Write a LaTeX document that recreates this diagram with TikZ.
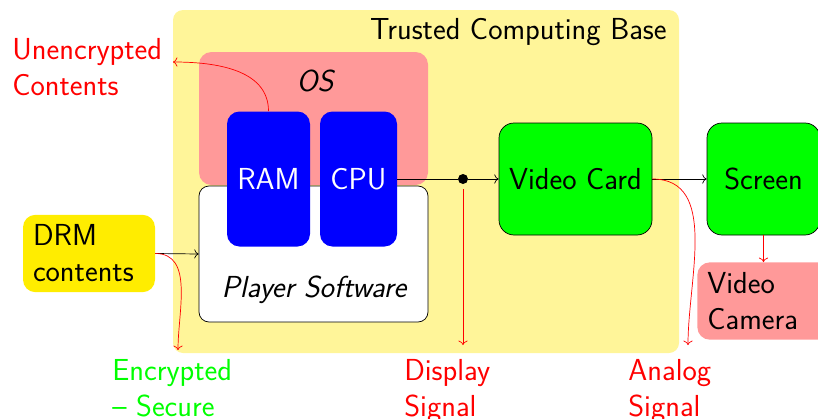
\documentclass[tikz,border=0pt]{standalone}
\usepackage{tikz}
\usetikzlibrary{arrows.meta,positioning,calc}
\definecolor{tcbyellow}{HTML}{FFF599}
\definecolor{drmyellow}{HTML}{FFED00}

\begin{document}
\begin{tikzpicture}[
  font=\sffamily\fontsize{17.3pt}{20.5pt}\selectfont,
  area/.style={rounded corners=0.2cm, inner sep=0pt},
  chip/.style={rounded corners=0.25cm, fill=blue, text=white, inner sep=0pt, minimum height=2.7cm},
  unit/.style={rounded corners=0.3cm, draw, fill=green, inner sep=0pt, minimum width=3.06cm, minimum height=2.24cm},
  note/.style={align=left, inner sep=0pt, anchor=north west},
  sig/.style={red, ->},
  flow/.style={->}]
  \useasboundingbox (0,0) rectangle (16.36,8.36);
  \node[area, fill=tcbyellow, minimum width=10.12cm, minimum height=6.86cm] (tcb) at (8.52,4.73) {};
  \node[anchor=base east, inner sep=0pt] (tcblab) at (13.34,7.58) {Trusted Computing Base};
  \node[area, rounded corners=0.25cm, fill=red!40, minimum width=4.58cm, minimum height=2.66cm] (os) at (6.27,5.99) {};
  \node[inner sep=0pt] (oslab) at (6.3,6.74) {\itshape OS};
  \node[area, draw, fill=white, minimum width=4.58cm, minimum height=2.72cm] (player) at (6.27,3.28) {};
  \node[anchor=base, inner sep=0pt] (playerlab) at (6.28,2.42) {\itshape Player Software};
  \node[chip, minimum width=1.66cm] (ram) at (5.37,4.78) {RAM};
  \node[chip, minimum width=1.54cm] (cpu) at (7.17,4.78) {CPU};
  \node[circle, fill, inner sep=0pt, minimum size=0.2cm] (dot) at (9.26,4.78) {};
  \node[unit] (vcard) at (11.51,4.78) {Video Card};
  \node[unit, minimum width=2.26cm] (screen) at (15.27,4.78) {Screen};
  \node[area, rounded corners=0.25cm, fill=drmyellow, align=left, text width=2.24cm, inner sep=0.2cm, minimum height=1.46cm] (drm) at (1.78,3.29) {DRM\\contents};
  \node[area, rounded corners=0.25cm, fill=red!40, align=left, anchor=north west, text width=2.4cm, inner sep=0.2cm, minimum height=1.48cm] (camera) at (13.94,3.12) {Video\\Camera};
  % leaks
  \coordinate (encend) at (3.56,1.36);
  \coordinate (dispend) at (9.26,1.46);
  \coordinate (anaend) at (13.76,1.46);
  \coordinate (unencend) at (3.46,7.12);
  \node[note, text=red] (unenc) at (0.24,7.6) {Unencrypted\\Contents};
  \node[note, text=green] (enc) at (2.24,1.18) {Encrypted\\-- Secure};
  \node[note, text=red] (disp) at (8.08,1.18) {Display\\Signal};
  \node[note, text=red] (ana) at (12.56,1.18) {Analog\\Signal};
  \draw[flow] (drm.east) -- (player.west);
  \draw (cpu.east) -- (dot);
  \draw[flow] (dot) -- (vcard);
  \draw[flow] (vcard) -- (screen);
  \draw[sig] (drm.east) to[out=0, in=90] (encend);
  \draw[sig] ($(dot.south)+(0,-0.1)$) -- (dispend);
  \draw[sig] (vcard.east) to[out=0, in=90] (anaend);
  \draw[sig] (ram.north) to[out=90, in=0] (unencend);
  \draw[sig] (screen) -- (camera.north -| screen);
\end{tikzpicture}
\end{document}
